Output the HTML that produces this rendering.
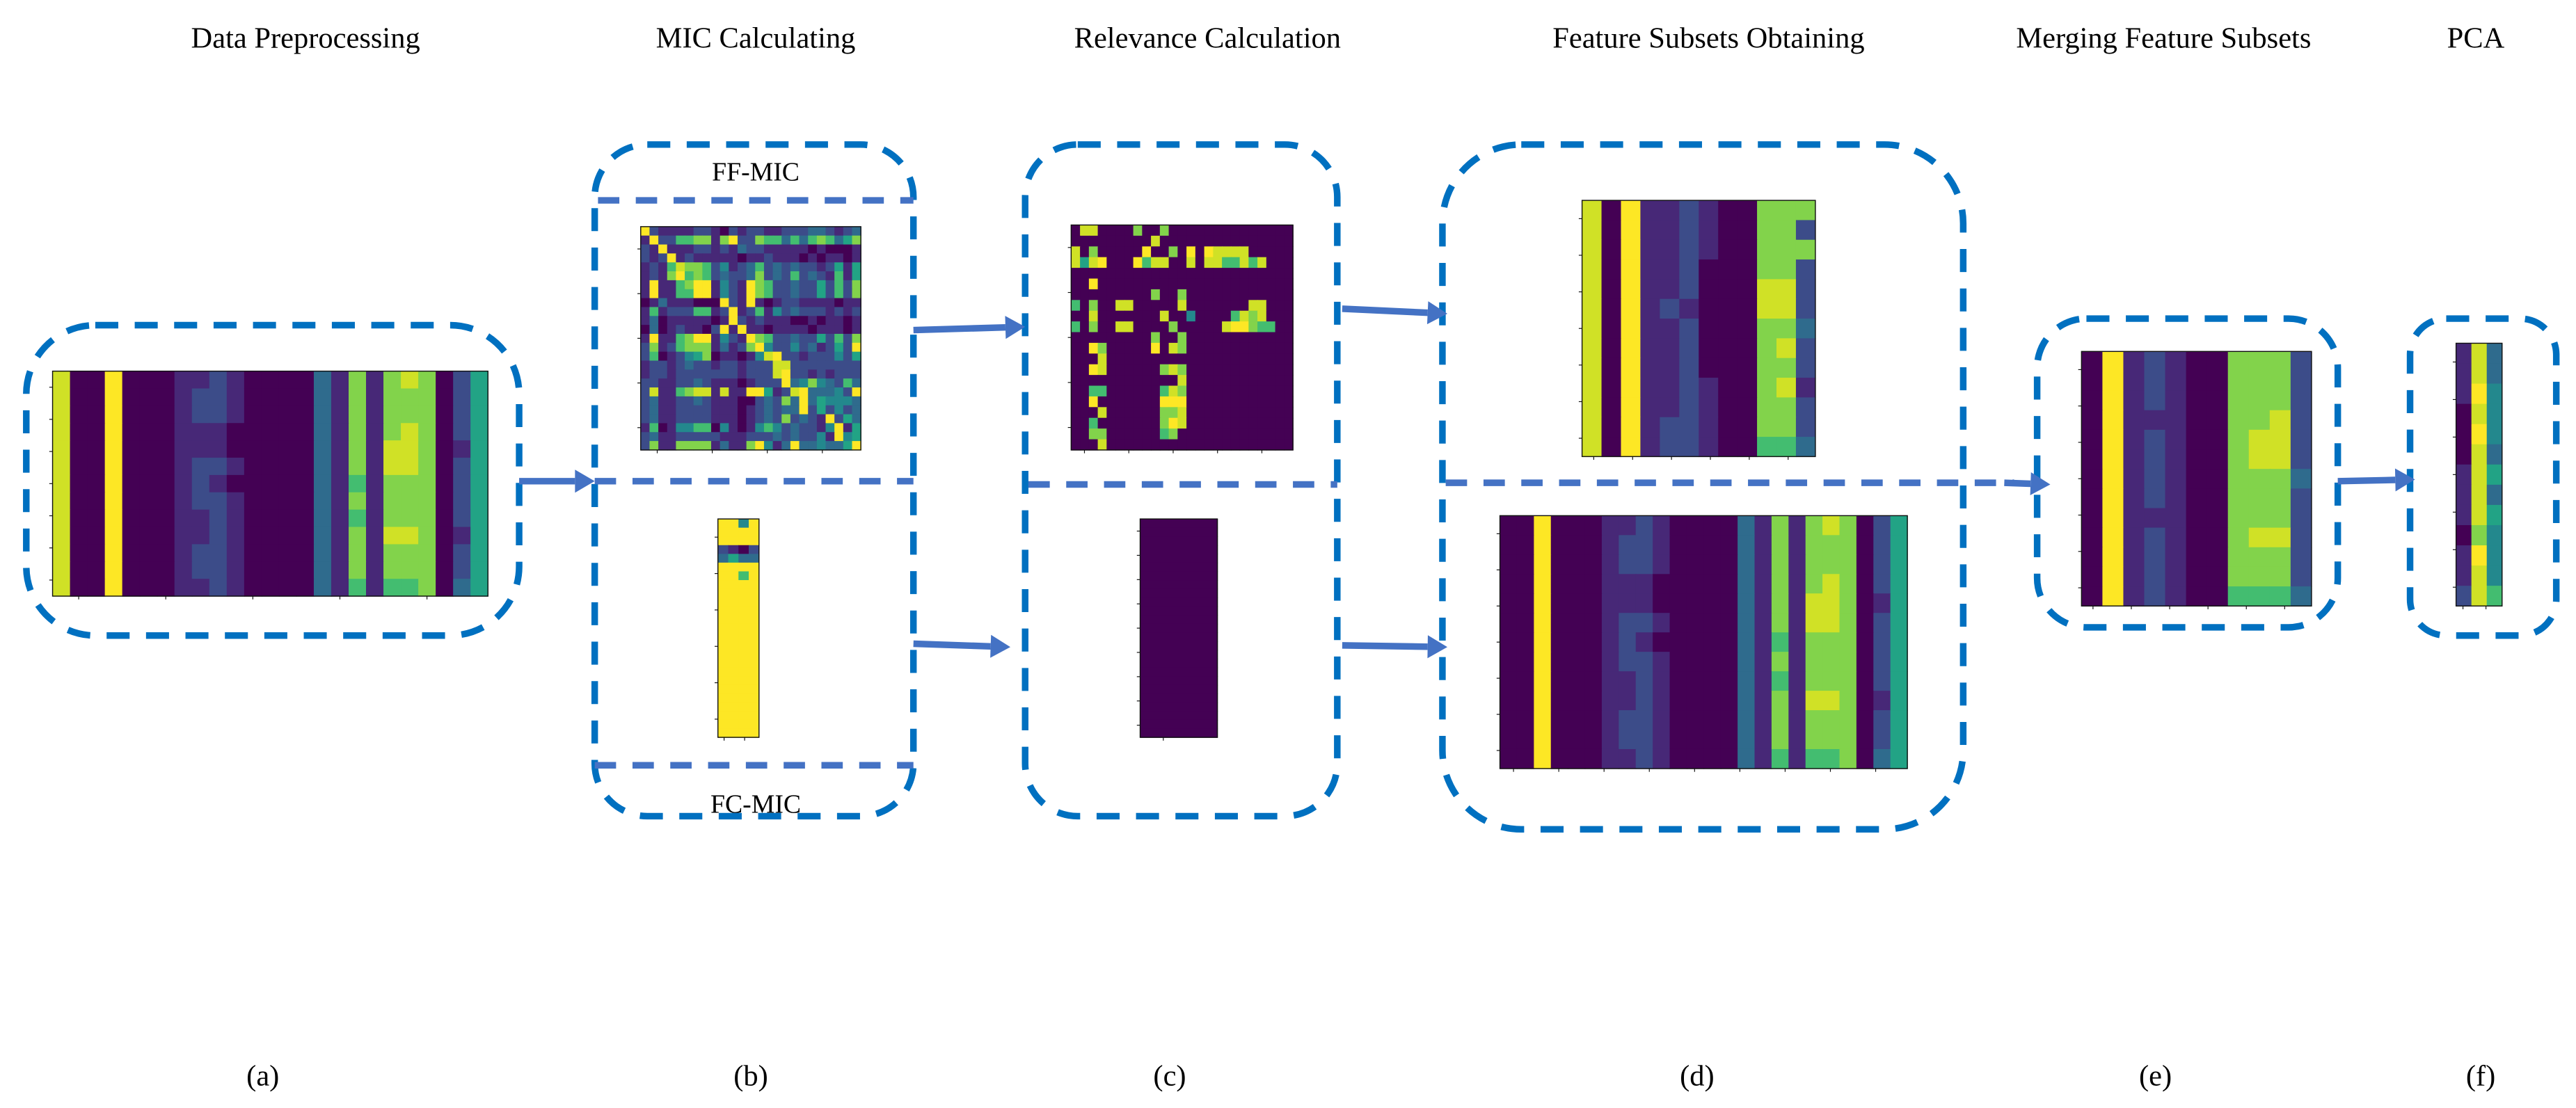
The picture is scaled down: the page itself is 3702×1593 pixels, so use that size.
<!DOCTYPE html>
<html><head><meta charset="utf-8"><style>
html,body{margin:0;padding:0;background:#fff;}
svg{display:block;}
text{font-family:"Liberation Serif",serif;fill:#000;}
</style></head><body>
<svg id="fig" width="3702" height="1593" viewBox="0 0 1568 674.7" xmlns="http://www.w3.org/2000/svg">
<g id="static"></g>
<g id="maps"></g>
</svg>
<script>
// ---- data (viridis levels 0-9 per cell) ----
const stageTitles = ["Data Preprocessing","MIC Calculating","Relevance Calculation","Feature Subsets Obtaining","Merging  Feature Subsets","PCA"];
const stageLabels = ["(a)","(b)","(c)","(d)","(e)","(f)"];
const mapA = [
"8009000112100003171787025",
"8009000122100003171777025",
"8009000122100003171777025",
"8009000111000003171787025",
"8009000111000003171887015",
"8009000122100003171887025",
"8009000121000003161777025",
"8009000122100003171777025",
"8009000112100003161777025",
"8009000112100003171887015",
"8009000122100003171777025",
"8009000122100003171777025",
"8009000112100003161667035"];
const mapFF = [
"9211112210212211222332123",
"1922667717922766363676357",
"2191112212132211111010001",
"2129121111101121110101101",
"1216877624123623232212515",
"1217967623223723262321615",
"1911679914219762232252627",
"1911669914219762232252627",
"0131110009219101221111011",
"1612226612912614232221212",
"1301111101921211100101101",
"0301211029191101111011101",
"1911679914219762232252627",
"2712677713127942242312529",
"2601245701101489221222425",
"1221232212212228822222222",
"1221222222212228922121222",
"2211223211101222934743263",
"2811678818119951289333429",
"2311223211100232739354443",
"2311222211101232339252423",
"2311222211101232723219253",
"1601446604101464232214915",
"2311222221112223232241945",
"2711777713117941393343359"];
const mapFC = [
"9949","9999","9999","2102","3533","9999","9969","9999","9999","9999","9999","9999","9999","9999","9999","9999","9999","9999","9999","9999","9999","9999","9999","9999","9999"];
const mapRel = [
"0880000700700000000000000",
"0000000008000000000000000",
"8070000090070909888800000",
"8589000968800808866868000",
"0000000000000000000000000",
"0090000000000000000000000",
"0000000007007000000000000",
"6070088000008000000088000",
"0080000000800400006878000",
"6070088000070000089976600",
"0000000007007000000000000",
"0097000009087000000000000",
"0008000000000000000000000",
"0098000000787000000000000",
"0000000000008000000000000",
"0066000000687000000000000",
"0090000000999000000000000",
"0008000000778000000000000",
"0060000000798000000000000",
"0077000000670000000000000",
"0008000000000000000000000"];
const mapRelFC = ["0","0","0","0","0","0","0","0","0","0","0","0","0","0","0","0","0","0","0","0","0","0","0","0","0"];
const mapD1 = [
"809112100777",
"809112100772",
"809112100777",
"809112000772",
"809112000882",
"809121000882",
"809112000773",
"809112000782",
"809112000772",
"809112100781",
"809112100772",
"809122100772",
"809122100663"];
const mapD2 = [
"009000112100003171787025",
"009000122100003171777025",
"009000122100003171777025",
"009000111000003171787025",
"009000111000003171887015",
"009000122100003171887025",
"009000121000003161777025",
"009000122100003171777025",
"009000112100003161777025",
"009000112100003171887015",
"009000122100003171777025",
"009000122100003171777025",
"009000112100003161667035"];
const mapE = [
"09121007772",
"09121007772",
"09121007772",
"09111007782",
"09121007882",
"09121007882",
"09121007773",
"09121007772",
"09111007772",
"09121007882",
"09121007772",
"09121007772",
"09121006663"];
const mapF = ["183","183","194","084","094","083","185","183","185","074","194","184","286"];

// ---- helpers ----
const NS = "http://www.w3.org/2000/svg";
const stat = document.getElementById('static');
const mapsG = document.getElementById('maps');
const VIR = [[68,1,84],[72,35,116],[64,67,135],[52,94,141],[41,120,142],[32,144,140],[34,167,132],[68,190,112],[121,209,81],[189,223,38],[253,231,37]];
function viridis(t){t=Math.max(0,Math.min(1,t));const p=t*10,i=Math.min(9,Math.floor(p)),f=p-i;const a=VIR[i],b=VIR[i+1];return `rgb(${Math.round(a[0]+(b[0]-a[0])*f)},${Math.round(a[1]+(b[1]-a[1])*f)},${Math.round(a[2]+(b[2]-a[2])*f)})`;}
function el(tag,attrs,parent){const e=document.createElementNS(NS,tag);for(const k in attrs)e.setAttribute(k,attrs[k]);parent.appendChild(e);return e;}

function heatmap(name,data,x0,y0,w,h,nyt,nxt){
  const g=el('g',{},mapsG);
  
  
  const rows=data.length, cols=data[0].trim().length;
  const xs=c=>x0+c*w/cols, ys=r=>y0+r*h/rows;
  for(let r=0;r<rows;r++){const s=data[r].trim();for(let c=0;c<cols;c++){
    const v=Math.min(1,(parseInt(s[c]||'0'))/8.6);
    const cell=el('rect',{x:xs(c),y:ys(r),width:w/cols+0.3,height:h/rows+0.3,fill:viridis(v)},g);
    
    
  }}
  el('rect',{x:x0,y:y0,width:w,height:h,fill:'none',stroke:'#111','stroke-width':0.6},g);
  for(let i=0;i<nyt;i++){const y=y0+h*(i+0.5)/nyt;el('line',{x1:x0-2,x2:x0,y1:y,y2:y,stroke:'#111','stroke-width':0.5},g);}
  for(let i=0;i<nxt;i++){const x=x0+w*(i+0.3)/nxt;el('line',{x1:x,x2:x,y1:y0+h,y2:y0+h+2,stroke:'#111','stroke-width':0.5},g);}
}
function rbox(name,x,y,w,h,r){
  const e=el('rect',{x,y,width:w,height:h,rx:r,ry:r,fill:'none',stroke:'#0070C0','stroke-width':4,'stroke-dasharray':'14 10'},stat);
  
  
}
function dline(name,x1,y1,x2,y2,color){
  const e=el('line',{x1,y1,x2,y2,stroke:color||'#4472C4','stroke-width':4,'stroke-dasharray':'13 10'},stat);
  
  
}
function arrow(name,x1,y1,x2,y2){
  const g=el('g',{},stat);
  
  
  const ang=Math.atan2(y2-y1,x2-x1),L=12;
  const bx=x2-L*Math.cos(ang),by=y2-L*Math.sin(ang);
  el('line',{x1,y1,x2:bx,y2:by,stroke:'#4472C4','stroke-width':4},g);
  const px=-Math.sin(ang)*7,py=Math.cos(ang)*7;
  el('polygon',{points:`${x2},${y2} ${bx+px},${by+py} ${bx-px},${by-py}`,fill:'#4472C4'},g);
}
function txt(name,s,x,y,size){
  const t=el('text',{x,y,'font-size':size,'text-anchor':'middle'},stat);
  t.textContent=s;
  
  
}

// titles & labels
const titleX=[186,460,735,1040,1317,1507];
const labelX=[160,457,712,1033,1312,1510];
stageTitles.forEach((s,i)=>txt('stage-title-'+stageLabels[i].replace(/[()]/g,''),s,titleX[i],29,18));
stageLabels.forEach((s,i)=>txt('stage-label-'+s.replace(/[()]/g,''),s,labelX[i],661,18));
txt('ff-mic-label','FF-MIC',460,110,16);
txt('fc-mic-label','FC-MIC',460,495,16);

// boxes
rbox('box-a',16,198,300,189,42);
rbox('box-b',362,88,194,409,32);
dline('box-b-ff-top',364,122,556,122,'#4472C4');
dline('box-b-divider',362,293,556,293,'#4472C4');
dline('box-b-fc-bottom',362,466,556,466,'#4472C4');
rbox('box-c',624,88,190,409,32);
dline('box-c-divider',626,295,814,295,'#4472C4');
rbox('box-d',878,88,317,417,48);
rbox('box-e',1240,194,183,188,30);
rbox('box-f',1467,194,89,193,22);

// arrows
arrow('arrow-a-b',316,293,362,293);
arrow('arrow-b-c-top',556,201,624,199);
arrow('arrow-b-c-bottom',556,392,615,394);
arrow('arrow-c-d-top',817,188,881,191);
arrow('arrow-c-d-bottom',817,393,881,394);
dline('dash-d-e',880,294,1226,294,'#4472C4');
arrow('arrow-d-e',1220,294,1248,295);
arrow('arrow-e-f',1423,293,1470,292);

// heatmaps
heatmap('heatmap-raw-data',mapA,32,226,265,137,7,5);
heatmap('heatmap-ff-mic',mapFF,390,138,134,136,5,4);
heatmap('heatmap-fc-mic',mapFC,437,316,25,133,6,2);
heatmap('heatmap-relevance-ff',mapRel,652,137,135,137,5,5);
heatmap('heatmap-relevance-fc',mapRelFC,694,316,47,133,9,1);
heatmap('heatmap-subset-1',mapD1,963,122,142,156,7,6);
heatmap('heatmap-subset-2',mapD2,913,314,248,154,7,9);
heatmap('heatmap-merged',mapE,1267,214,140,155,7,6);
heatmap('heatmap-pca',mapF,1495,209,28,160,7,2);
</script>
</body></html>
